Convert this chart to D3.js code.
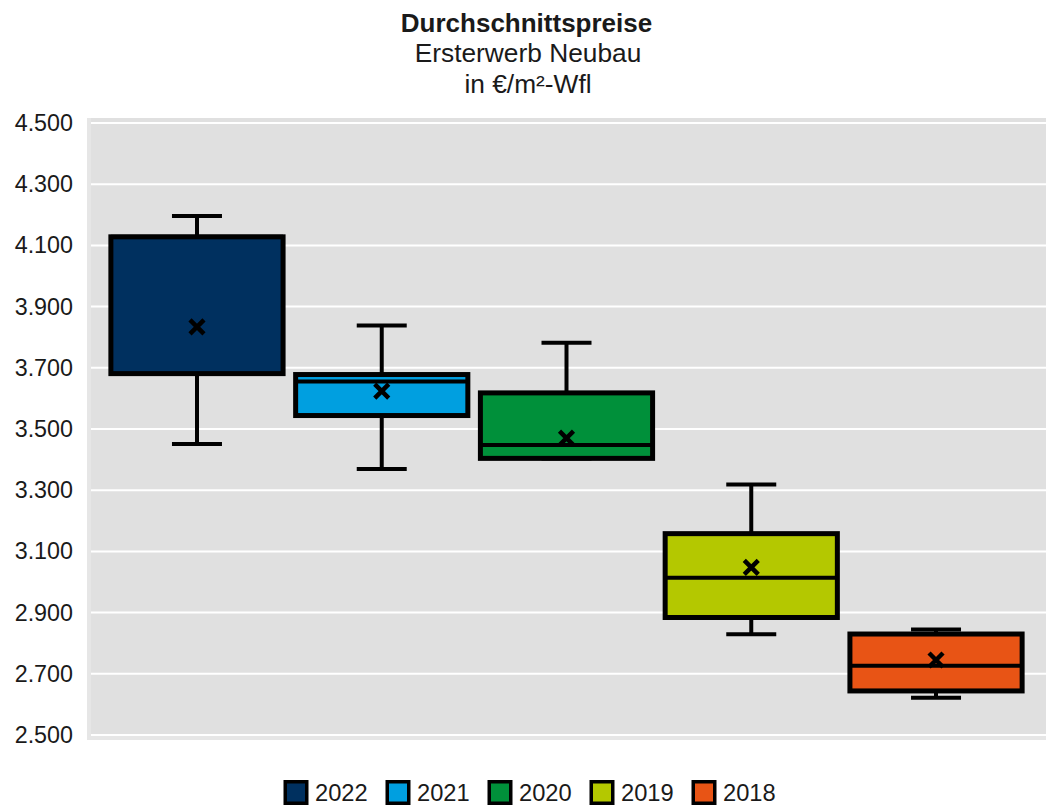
<!DOCTYPE html>
<html>
<head>
<meta charset="utf-8">
<script src="https://cdn.jsdelivr.net/npm/d3@7"></script>
<style>
  html, body { margin: 0; padding: 0; background: #fff; }
  svg { display: block; font-family: "Liberation Sans", Arial, sans-serif; }
</style>
</head>
<body>
<svg id="chart" width="1046" height="807"></svg>
<script>
// Jahrgänge und Kennwerte (€/m² Wohnfläche)
const years   = ["2022", "2021", "2020", "2019", "2018"];
const colors  = ["#00305f", "#009fe0", "#00903a", "#b4c800", "#e85415"];
const whiskerLow  = [3451, 3369, 3404, 2829, 2622];
const quartile1   = [3681, 3544, 3404, 2884, 2644];
const medians     = [4128, 3655, 3448, 3014, 2726];
const quartile3   = [4128, 3678, 3618, 3158, 2830];
const whiskerHigh = [4196, 3838, 3782, 3319, 2845];
const means       = [3834, 3624, 3470, 3048, 2745];
const yTicks = [2500, 2700, 2900, 3100, 3300, 3500, 3700, 3900, 4100, 4300, 4500];
const titleLines = ["Durchschnittspreise", "Ersterwerb Neubau", "in €/m²-Wfl"];

const de = d3.formatLocale({ decimal: ",", thousands: ".", grouping: [3], currency: ["", " €"] });
const fmt = de.format(",");

const svg = d3.select("#chart");
const plot = { left: 87, right: 1046, top: 118, bottom: 740 };

const y = d3.scaleLinear().domain([2500, 4500]).range([735, 123]);
const x = d3.scaleBand().domain(years).range([104.6, 1028.4]).paddingInner(0.068).paddingOuter(0.034);

// Zeichenfläche
svg.append("rect")
  .attr("x", plot.left).attr("y", plot.top)
  .attr("width", plot.right - plot.left).attr("height", plot.bottom - plot.top)
  .attr("fill", "#e6e6e6");
svg.append("rect")
  .attr("x", plot.left + 4).attr("y", plot.top)
  .attr("width", plot.right - plot.left - 4).attr("height", plot.bottom - plot.top - 4)
  .attr("fill", "#e0e0e0");

// Gitterlinien
svg.append("g").selectAll("line").data(yTicks).join("line")
  .attr("x1", plot.left + 4).attr("x2", plot.right)
  .attr("y1", d => y(d)).attr("y2", d => y(d))
  .attr("stroke", "#ffffff").attr("stroke-width", 2);

// y-Achse
const yAxis = svg.append("g")
  .attr("transform", `translate(${plot.left - 14},0)`)
  .call(d3.axisLeft(y).tickValues(yTicks).tickFormat(fmt).tickSize(0).tickPadding(0));
yAxis.select(".domain").remove();
yAxis.selectAll("text")
  .attr("font-size", 23.3).attr("fill", "#1a1a1a")
  .attr("font-family", "'Liberation Sans', Arial, sans-serif");

// Boxplots
const data = years.map((yr, i) => ({
  yr, color: colors[i],
  lo: whiskerLow[i], q1: quartile1[i], med: medians[i], q3: quartile3[i], hi: whiskerHigh[i], mean: means[i]
}));

const bw = x.bandwidth();
const capW = 50;
const g = svg.append("g").selectAll("g").data(data).join("g")
  .attr("transform", d => `translate(${x(d.yr)},0)`);

// Whisker
g.append("line")
  .attr("x1", bw / 2).attr("x2", bw / 2)
  .attr("y1", d => y(d.hi)).attr("y2", d => y(d.q3))
  .attr("stroke", "#000").attr("stroke-width", 4);
g.append("line")
  .attr("x1", bw / 2).attr("x2", bw / 2)
  .attr("y1", d => y(d.q1)).attr("y2", d => y(d.lo))
  .attr("stroke", "#000").attr("stroke-width", 4);
g.append("line")
  .attr("x1", bw / 2 - capW / 2).attr("x2", bw / 2 + capW / 2)
  .attr("y1", d => y(d.hi)).attr("y2", d => y(d.hi))
  .attr("stroke", "#000").attr("stroke-width", 4);
g.append("line")
  .attr("x1", bw / 2 - capW / 2).attr("x2", bw / 2 + capW / 2)
  .attr("y1", d => y(d.lo)).attr("y2", d => y(d.lo))
  .attr("stroke", "#000").attr("stroke-width", 4);

// Box
g.append("rect")
  .attr("x", 0).attr("width", bw)
  .attr("y", d => y(d.q3)).attr("height", d => y(d.q1) - y(d.q3))
  .attr("fill", d => d.color)
  .attr("stroke", "#000").attr("stroke-width", 5);

// Median
g.append("line")
  .attr("x1", 0).attr("x2", bw)
  .attr("y1", d => y(d.med)).attr("y2", d => y(d.med))
  .attr("stroke", "#000").attr("stroke-width", 4);

// Mittelwert (Kreuz)
const m = 7;
g.append("path")
  .attr("d", d => {
    const cy = y(d.mean), cx = bw / 2;
    return `M${cx - m},${cy - m}L${cx + m},${cy + m}M${cx - m},${cy + m}L${cx + m},${cy - m}`;
  })
  .attr("stroke", "#000").attr("stroke-width", 4.5).attr("fill", "none");

// Titel
svg.append("g").selectAll("text").data(titleLines).join("text")
  .attr("x", (d, i) => i === 0 ? 526.5 : 528)
  .attr("y", (d, i) => 31.7 + i * 30.5)
  .attr("text-anchor", "middle")
  .attr("font-size", (d, i) => i === 0 ? 26 : 26.3)
  .attr("font-weight", (d, i) => i === 0 ? "bold" : "normal")
  .attr("fill", "#1a1a1a")
  .text(d => d);

// Legende
const leg = svg.append("g").selectAll("g").data(data).join("g")
  .attr("transform", (d, i) => `translate(${283.5 + i * 102},780)`);
leg.append("rect")
  .attr("x", 1.75).attr("y", 1.75).attr("width", 21.5).attr("height", 21.5)
  .attr("fill", d => d.color).attr("stroke", "#000").attr("stroke-width", 3.5);
leg.append("text")
  .attr("x", 31.5).attr("y", 20.7)
  .attr("font-size", 23.7).attr("fill", "#1a1a1a")
  .text(d => d.yr);
</script>
</body>
</html>
